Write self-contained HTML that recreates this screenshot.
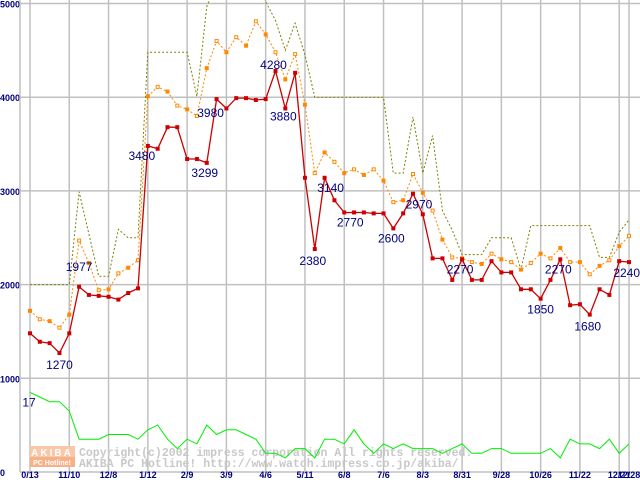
<!DOCTYPE html>
<html><head><meta charset="utf-8">
<style>
html,body{margin:0;padding:0;background:#fff;}
#c{position:relative;width:640px;height:480px;overflow:hidden;font-family:"Liberation Sans",sans-serif;}
svg{position:absolute;left:0;top:0;}
</style></head>
<body>
<div id="c">
<svg id="s" width="640" height="480" viewBox="0 0 640 480"></svg>
</div>
<script>
const xLabels = ["0/13","11/10","12/8","1/12","2/9","3/9","4/6","5/11","6/8","7/6","8/3","8/31","9/28","10/26","11/22","12/21","12/28"];
const xLabelIdx = [0,4,8,12,16,20,24,28,32,36,40,44,48,52,56,60,61];
const yTicks = [0,1000,2000,3000,4000,5000];
const minPrice = [1480,1390,1375,1270,1480,1977,1890,1880,1870,1840,1910,1960,3480,3450,3680,3680,3340,3340,3299,3980,3880,3990,3990,3970,3980,4280,3880,4260,3140,2380,3140,2900,2770,2770,2770,2760,2760,2600,2760,2970,2750,2280,2280,2050,2270,2050,2050,2250,2130,2130,1950,1950,1850,2050,2270,1780,1790,1680,1950,1890,2250,2240];
const avgPrice = [1720,1630,1610,1540,1680,2470,2230,1940,1950,2120,2180,2260,4010,4110,4060,3910,3870,3800,4310,4600,4480,4640,4550,4810,4670,4480,4190,4460,3920,3190,3410,3310,3190,3230,3170,3230,3110,2880,2900,3180,2980,2790,2480,2290,2280,2240,2220,2330,2270,2240,2160,2230,2330,2280,2390,2240,2240,2110,2200,2260,2410,2520];
const maxPrice = [2000,2000,2000,2000,2000,2990,2540,2090,2090,2590,2500,2500,4480,4480,4480,4480,4480,4010,4970,5200,5300,5300,5300,5300,5020,4820,4500,4790,4450,4000,4000,4000,4000,4000,4000,4000,4000,3190,3190,3790,3190,3590,2790,2580,2320,2320,2320,2500,2500,2500,2160,2630,2630,2630,2630,2630,2630,2630,2290,2290,2560,2690];
const shopCount = [17,16,15,15,13,7,7,7,8,8,8,7,9,10,7,5,7,6,10,8,9,9,8,7,4,4,3,5,5,3,7,7,6,9,6,4,6,5,6,5,5,5,4,5,6,4,4,5,5,4,4,4,4,5,3,7,6,6,5,7,4,6];
const countScale = 50;
const labelIdx = [3,5,12,18,19,25,26,29,30,32,37,39,44,52,54,57,61];
const labelDx = [0,0,-6,-2,-6,-2,-2,-2,6,6,-2,6,-2,0,-2,-2,-1];
const labelDy = [16,-16,14,14,18,-2,12,16,14,14,14,15,14,15,14,16,15];

const S=document.getElementById('s');
const NS='http://www.w3.org/2000/svg';
const X0=30, DX=9.82, Y0=472, YS=0.0937;
function xs(i){return X0+i*DX;}
function ys(v){return Y0-v*YS;}
function mk(t,a){const e=document.createElementNS(NS,t);for(const k in a)e.setAttribute(k,a[k]);S.appendChild(e);return e;}

yTicks.forEach((v,k)=>{
  const l=mk('line',{x1:20,x2:640,y1:ys(v),y2:ys(v),stroke:'#c0c0c0','stroke-width':1.5});
  
  
  const t=mk('text',{x:0,y:ys(v)+4,'font-size':9,'font-weight':'bold',fill:'#000080','font-family':'Liberation Sans, sans-serif'});
  t.textContent=v;
  
  
});
const ax=mk('line',{x1:20,x2:20,y1:0,y2:472,stroke:'#c0c0c0','stroke-width':1.5});


xLabelIdx.forEach((i,k)=>{
  const l=mk('line',{x1:xs(i),x2:xs(i),y1:0,y2:472,stroke:'#c0c0c0','stroke-width':1.5});
  
  
  const t=mk('text',{x:xs(i),y:478,'font-size':9,'font-weight':'bold',fill:'#000080','text-anchor':'middle','font-family':'Liberation Sans, sans-serif'});
  t.textContent=xLabels[k];
  
  
});

const lg1=mk('rect',{x:30,y:446,width:45,height:11,fill:'#f8c8a8'});


const lg2=mk('rect',{x:30,y:457,width:45,height:10,fill:'#f8b088'});


const lt1=mk('text',{x:52,y:456,'font-size':10,'font-weight':'bold',fill:'#fff','text-anchor':'middle','letter-spacing':2,'font-family':'Liberation Sans, sans-serif'});
lt1.textContent='AKIBA';


const lt2=mk('text',{x:52,y:465,'font-size':7,'font-weight':'bold',fill:'#fff','text-anchor':'middle','font-family':'Liberation Sans, sans-serif'});
lt2.textContent='PC Hotline!';


const c1=mk('text',{x:79,y:456,'font-size':11.5,'font-weight':'bold',fill:'#c8c8c8','font-family':'Liberation Mono, monospace'});
c1.textContent='Copyright(c)2002 impress corporation All rights reserved.';


const c2=mk('text',{x:79,y:467,'font-size':11.5,'font-weight':'bold',fill:'#c8c8c8','font-family':'Liberation Mono, monospace'});
c2.textContent='AKIBA PC Hotline!  http://www.watch.impress.co.jp/akiba/';



function pts(arr,f){return arr.map((v,i)=>xs(i).toFixed(1)+','+ys(f(v)).toFixed(1)).join(' ');}
const g=mk('polyline',{points:pts(shopCount,v=>v*countScale),fill:'none',stroke:'#00ee00','stroke-width':1});


const m=mk('polyline',{points:pts(maxPrice,v=>v),fill:'none',stroke:'#808000','stroke-width':1,'stroke-dasharray':'2,2'});


const a=mk('polyline',{points:pts(avgPrice,v=>v),fill:'none',stroke:'#ff8800','stroke-width':1,'stroke-dasharray':'2,2'});


avgPrice.forEach((v,i)=>{
  const r=mk('rect',{x:xs(i)-1.5,y:ys(v)-1.5,width:3,height:3,fill:i%2?'#fff':'#ff8800',stroke:'#ff8800','stroke-width':1});
  
  
});
const r0=mk('polyline',{points:pts(minPrice,v=>v),fill:'none',stroke:'#cc0000','stroke-width':1.3});


minPrice.forEach((v,i)=>{
  const r=mk('rect',{x:xs(i)-2,y:ys(v)-2,width:4,height:4,fill:'#cc0000'});
  
  
});
labelIdx.forEach((i,k)=>{
  const last=(i===minPrice.length-1);
  const t=mk('text',{x:last?640:xs(i)+labelDx[k],y:ys(minPrice[i])+labelDy[k],'font-size':12,fill:'#000080','text-anchor':last?'end':'middle','font-family':'Liberation Sans, sans-serif'});
  t.textContent=minPrice[i];
  
  
});
const gl=mk('text',{x:29,y:ys(shopCount[0]*countScale)+14,'font-size':12,fill:'#000080','text-anchor':'middle','font-family':'Liberation Sans, sans-serif'});
gl.textContent=shopCount[0];


</script>
</body></html>
